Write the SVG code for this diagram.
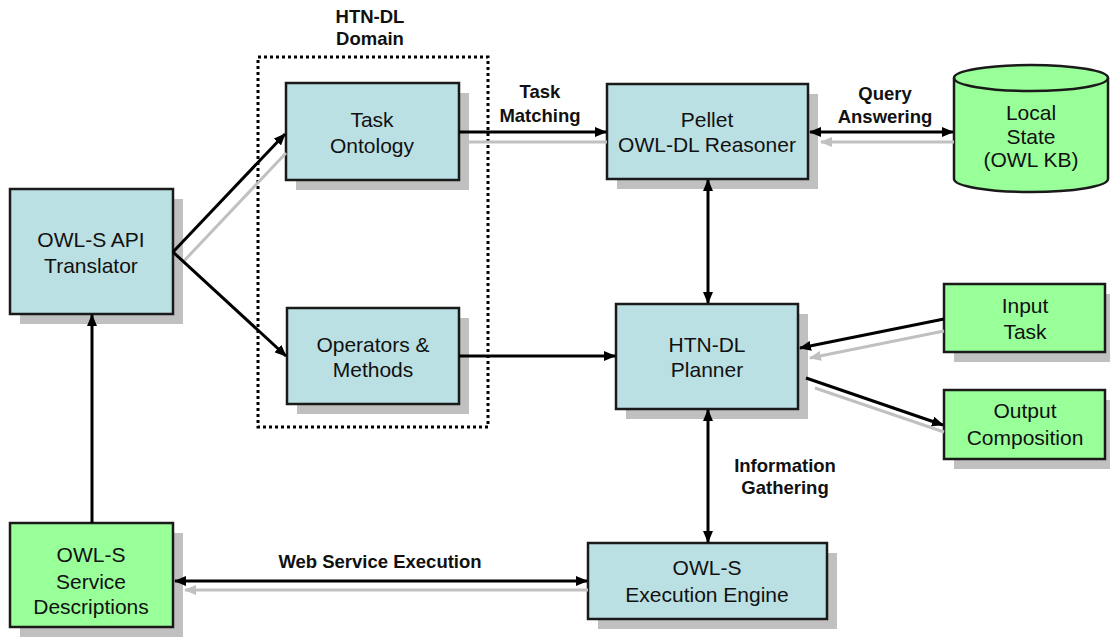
<svg xmlns="http://www.w3.org/2000/svg" width="1110" height="643" viewBox="0 0 1110 643">
  <style>
    .box { fill: #bbe0e3; stroke: #1a1a1a; stroke-width: 2.5; }
    .gbox { fill: #99ff99; stroke: #1a1a1a; stroke-width: 2.5; }
    .shadow { fill: #c0c0c0; stroke: none; }
    .t { font-family: "Liberation Sans", Arial, sans-serif; font-size: 21px; fill: #111; text-anchor: middle; }
    .lbl { font-family: "Liberation Sans", Arial, sans-serif; font-size: 18.5px; font-weight: bold; fill: #111; text-anchor: middle; }
    .edge { fill: none; stroke: #000; stroke-width: 3; }
    .edge-shadow { fill: none; stroke: #c0c0c0; stroke-width: 3; }
    .dotted { fill: none; stroke: #000; stroke-width: 3; stroke-dasharray: 3 3; }
  </style>
  <defs>
    <marker id="arrow" markerUnits="userSpaceOnUse" markerWidth="12" markerHeight="10" refX="11" refY="5" orient="auto-start-reverse">
      <path d="M0,0 L12,5 L0,10 z" fill="#000"/>
    </marker>
    <marker id="arrow-gray" markerUnits="userSpaceOnUse" markerWidth="12" markerHeight="10" refX="11" refY="5" orient="auto-start-reverse">
      <path d="M0,0 L12,5 L0,10 z" fill="#c0c0c0"/>
    </marker>
  </defs>

  <rect width="1110" height="643" fill="#ffffff"/>

  <!-- HTN-DL domain boundary -->
  <g id="domain">
    <rect class="dotted" x="258" y="57" width="230" height="370"/>
    <text class="lbl" x="370" y="23">HTN-DL</text>
    <text class="lbl" x="370" y="45">Domain</text>
  </g>

  <g id="translator">
    <rect class="shadow" x="20" y="199" width="163" height="125"/>
    <rect class="box" x="10" y="189" width="163" height="125"/>
    <text class="t" x="91" y="247">OWL-S API</text>
    <text class="t" x="91" y="273">Translator</text>
  </g>

  <g id="task-ontology">
    <rect class="shadow" x="296" y="93" width="173" height="97"/>
    <rect class="box" x="286" y="83" width="173" height="97"/>
    <text class="t" x="372" y="127">Task</text>
    <text class="t" x="372" y="153">Ontology</text>
  </g>

  <g id="operators-methods">
    <rect class="shadow" x="297" y="318" width="172" height="96"/>
    <rect class="box" x="287" y="308" width="172" height="96"/>
    <text class="t" x="373" y="352">Operators &amp;</text>
    <text class="t" x="373" y="377">Methods</text>
  </g>

  <g id="pellet">
    <rect class="shadow" x="617" y="94" width="201" height="95"/>
    <rect class="box" x="607" y="84" width="201" height="95"/>
    <text class="t" x="707" y="127">Pellet</text>
    <text class="t" x="707" y="152">OWL-DL Reasoner</text>
  </g>

  <g id="local-state">
    <path class="gbox" d="M954,78 A77,13 0 0 1 1108,78 L1108,179 A77,13 0 0 1 954,179 Z"/>
    <path d="M954,78 A77,13 0 0 0 1108,78" fill="none" stroke="#1a1a1a" stroke-width="2.5"/>
    <text class="t" x="1031" y="120">Local</text>
    <text class="t" x="1031" y="144">State</text>
    <text class="t" x="1031" y="167">(OWL KB)</text>
  </g>

  <g id="planner">
    <rect class="shadow" x="626" y="314" width="182" height="105"/>
    <rect class="box" x="616" y="304" width="182" height="105"/>
    <text class="t" x="707" y="352">HTN-DL</text>
    <text class="t" x="707" y="377">Planner</text>
  </g>

  <g id="input-task">
    <rect class="shadow" x="954" y="294" width="161" height="68"/>
    <rect class="gbox" x="944" y="284" width="161" height="68"/>
    <text class="t" x="1025" y="313">Input</text>
    <text class="t" x="1025" y="339">Task</text>
  </g>

  <g id="output-composition">
    <rect class="shadow" x="954" y="400" width="161" height="69"/>
    <rect class="gbox" x="944" y="390" width="161" height="69"/>
    <text class="t" x="1025" y="418">Output</text>
    <text class="t" x="1025" y="445">Composition</text>
  </g>

  <g id="service-descriptions">
    <rect class="shadow" x="20" y="533" width="163" height="104"/>
    <rect class="gbox" x="10" y="523" width="163" height="104"/>
    <text class="t" x="91" y="562">OWL-S</text>
    <text class="t" x="91" y="589">Service</text>
    <text class="t" x="91" y="614">Descriptions</text>
  </g>

  <g id="execution-engine">
    <rect class="shadow" x="598" y="553" width="239" height="76"/>
    <rect class="box" x="588" y="543" width="239" height="76"/>
    <text class="t" x="707" y="575">OWL-S</text>
    <text class="t" x="707" y="602">Execution Engine</text>
  </g>

  <!-- connectors -->
  <g id="connectors">
    <!-- drop shadows of some connectors, trimmed at the node borders -->
    <line class="edge-shadow" x1="183" y1="262" x2="286" y2="153"/>
    <line class="edge-shadow" x1="469" y1="142" x2="607" y2="142"/>
    <line class="edge-shadow" x1="821" y1="142" x2="954" y2="142" marker-start="url(#arrow-gray)"/>
    <line class="edge-shadow" x1="944" y1="331" x2="810" y2="358" marker-end="url(#arrow-gray)"/>
    <line class="edge-shadow" x1="815" y1="388" x2="944" y2="432"/>
    <line class="edge-shadow" x1="185" y1="590" x2="588" y2="590" marker-start="url(#arrow-gray)"/>

    <line class="edge" x1="173" y1="252" x2="285" y2="134" marker-end="url(#arrow)"/>
    <line class="edge" x1="173" y1="252" x2="286" y2="356" marker-end="url(#arrow)"/>
    <line class="edge" x1="459" y1="132" x2="606" y2="132" marker-end="url(#arrow)"/>
    <line class="edge" x1="810" y1="132" x2="953" y2="132" marker-start="url(#arrow)" marker-end="url(#arrow)"/>
    <line class="edge" x1="708" y1="180" x2="708" y2="303" marker-start="url(#arrow)" marker-end="url(#arrow)"/>
    <line class="edge" x1="459" y1="356" x2="615" y2="356" marker-end="url(#arrow)"/>
    <line class="edge" x1="944" y1="319" x2="800" y2="348" marker-end="url(#arrow)"/>
    <line class="edge" x1="806" y1="378" x2="943" y2="425" marker-end="url(#arrow)"/>
    <line class="edge" x1="708" y1="410" x2="708" y2="542" marker-start="url(#arrow)" marker-end="url(#arrow)"/>
    <line class="edge" x1="175" y1="581" x2="587" y2="581" marker-start="url(#arrow)" marker-end="url(#arrow)"/>
    <line class="edge" x1="92" y1="523" x2="92" y2="315" marker-end="url(#arrow)"/>

    <text class="lbl" x="540" y="98">Task</text>
    <text class="lbl" x="540" y="122">Matching</text>
    <text class="lbl" x="885" y="100">Query</text>
    <text class="lbl" x="885" y="123">Answering</text>
    <text class="lbl" x="785" y="472">Information</text>
    <text class="lbl" x="785" y="494">Gathering</text>
    <text class="lbl" x="380" y="568">Web Service Execution</text>
  </g>
</svg>
